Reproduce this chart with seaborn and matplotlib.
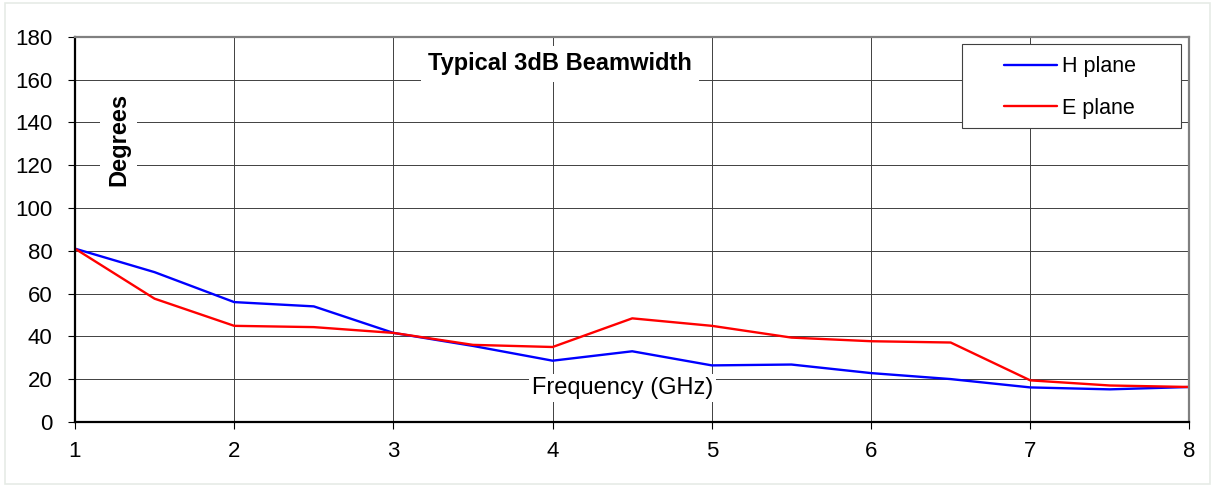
import numpy as np
import pandas as pd
import matplotlib
matplotlib.use("Agg")
import matplotlib.pyplot as plt
import seaborn as sns

# frequency (GHz) and 3dB beamwidth (degrees)
freq = [1, 1.5, 2, 2.5, 3, 3.5, 4, 4.5, 5, 5.5, 6, 6.5, 7, 7.5, 8]
h_plane = [81, 70, 56, 54, 41.6, 35.5, 28.6, 33, 26.4, 26.8, 22.8, 20, 16.1, 15.2, 16.3]
e_plane = [81, 57.6, 44.9, 44.3, 41.6, 36, 35, 48.4, 44.9, 39.4, 37.7, 37.1, 19.4, 17, 16.3]
series_names = ["H plane", "E plane"]
x_ticks = [1, 2, 3, 4, 5, 6, 7, 8]
y_ticks = [0, 20, 40, 60, 80, 100, 120, 140, 160, 180]

df = pd.DataFrame({
    "freq": freq * 2,
    "deg": h_plane + e_plane,
    "plane": [series_names[0]] * len(freq) + [series_names[1]] * len(freq),
})

sns.set_style("white")
plt.rcParams["font.family"] = ["Liberation Sans", "DejaVu Sans"]
plt.rcParams["text.color"] = "black"

fig = plt.figure(figsize=(12.15, 4.86), dpi=100)
ax = fig.add_axes([0.0617, 0.132, 0.9173, 0.792])

# faint outer frame
fig.patches.append(plt.Rectangle((0.004, 0.004), 0.992, 0.99, transform=fig.transFigure,
                                 fill=False, edgecolor="#e6ebe6", linewidth=1.2))

sns.lineplot(data=df, x="freq", y="deg", hue="plane", palette=["#0000ff", "#ff0000"],
             linewidth=1.7, ax=ax, legend=True)

ax.set_xlim(1, 8)
ax.set_ylim(0, 180)
ax.set_xticks(x_ticks)
ax.set_yticks(y_ticks)
ax.tick_params(axis="both", labelsize=16, direction="out", length=5, width=0.8,
               colors="black", labelcolor="black", left=True, bottom=True)
ax.tick_params(axis="y", pad=11)
ax.tick_params(axis="x", pad=9)
ax.grid(True, color="#404040", linewidth=0.7)
ax.set_axisbelow(True)
ax.set_xlabel("")
ax.set_ylabel("")

for side in ["left", "bottom"]:
    ax.spines[side].set_color("black")
    ax.spines[side].set_linewidth(1.6)
for side in ["top", "right"]:
    ax.spines[side].set_color("#808080")
    ax.spines[side].set_linewidth(1.6)

ax.text(0.435, 0.93, "Typical 3dB Beamwidth", transform=ax.transAxes, ha="center",
        va="center", fontsize=17, fontweight="bold", color="black",
        bbox=dict(facecolor="white", edgecolor="none", pad=5))
ax.text(0.039, 0.735, "Degrees", transform=ax.transAxes, ha="center", va="center",
        rotation=90, fontsize=17, fontweight="bold", color="black",
        bbox=dict(facecolor="white", edgecolor="none", pad=5))
ax.text(0.491, 0.088, "Frequency (GHz)", transform=ax.transAxes, ha="center",
        va="center", fontsize=17, color="black",
        bbox=dict(facecolor="white", edgecolor="none", pad=2))

# legend box drawn separately (Excel-style wide padding)
ax.add_patch(plt.Rectangle((0.796, 0.764), 0.196, 0.218, transform=ax.transAxes,
                           facecolor="white", edgecolor="#404040", linewidth=0.8,
                           zorder=4))
leg = ax.legend(loc="upper left", bbox_to_anchor=(0.834, 0.950), fontsize=15.5,
                frameon=False, handlelength=2.45, handletextpad=0.2,
                labelspacing=0.95, borderpad=0, borderaxespad=0)
leg.set_title(None)
leg.set_zorder(5)
for t in leg.get_texts():
    t.set_color("black")

fig.savefig("out.png", dpi=100)
